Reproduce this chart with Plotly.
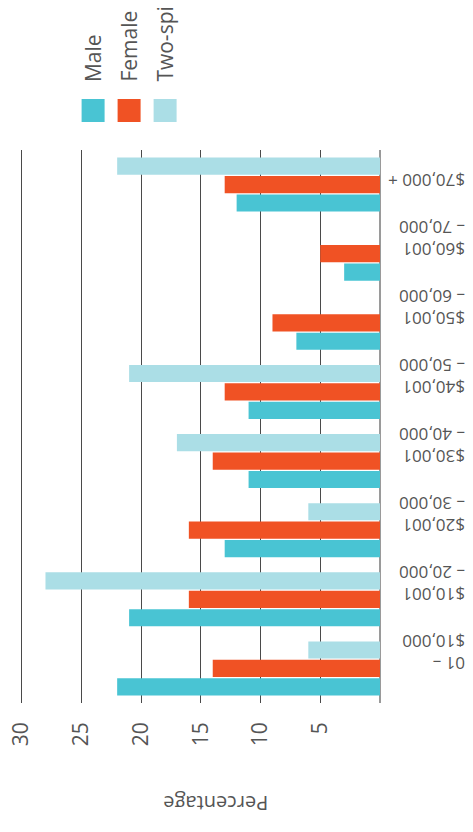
import plotly.graph_objects as go

# ---- data ----
categories = ["0-10000", "10001-20000", "20001-30000", "30001-40000",
              "40001-50000", "50001-60000", "60001-70000", "70000+"]
tick_labels = ["01 –<br>$10,000", "$10,001<br>– 20,000", "$20,001<br>– 30,000",
               "$30,001<br>– 40,000", "$40,001<br>– 50,000", "$50,001<br>– 60,000",
               "$60,001<br>– 70,000", "$70,000 +"]
male = [22, 21, 13, 11, 11, 7, 3, 12]
female = [14, 16, 16, 14, 13, 9, 5, 13]
two_spirit = [6, 28, 6, 17, 21, None, None, 22]
x_ticks = [5, 10, 15, 20, 25, 30]
series_names = ["Male", "Female", "Two-spirit"]
colors = ["#49C4D3", "#F05224", "#ABDEE6"]

# page body has an 8px margin; the figure starts 8px in from the window corner
OFF = 8
W, H = 473 - OFF, 832 - OFF
# plot area in window pixels
PL, PR, PT, PB = 18.4, 380.4, 150, 703
L, R = PL - OFF, W - (PR - OFF)
T, B = PT - OFF, H - (PB - OFF)
PW, PH = PR - PL, PB - PT

def px_x(x):
    return (x - PL) / PW

def px_y(y):
    return (PB - y) / PH

FONT = "Open Sans"
GREY = "#555555"

fig = go.Figure()
for name, vals, col in zip(series_names, [male, female, two_spirit], colors):
    fig.add_trace(go.Bar(y=categories, x=vals, name=name, orientation="h",
                         marker=dict(color=col, line=dict(width=0))))

# legend built from annotations + swatches (rotated text)
leg_x = [93.5, 129.5, 165.5]
for i, (name, col) in enumerate(zip(series_names, colors)):
    cx = leg_x[i]
    fig.add_shape(type="rect", xref="paper", yref="paper",
                  x0=px_x(cx - 11.5), x1=px_x(cx + 11.5),
                  y0=px_y(122), y1=px_y(99),
                  fillcolor=col, line=dict(width=0))
    fig.add_annotation(text=name, xref="paper", yref="paper",
                       x=px_x(cx), y=px_y(84), xanchor="center", yanchor="bottom",
                       textangle=-90, showarrow=False,
                       font=dict(family=FONT, size=21, color=GREY))

fig.add_annotation(text="Percentage", xref="paper", yref="paper",
                   x=px_x(216.5), y=px_y(804), xanchor="center", yanchor="middle",
                   textangle=180, showarrow=False,
                   font=dict(family=FONT, size=20, color=GREY))

fig.update_layout(
    width=W, height=H,
    margin=dict(l=L, r=R, t=T, b=B, pad=0, autoexpand=False),
    barmode="group", bargap=0.2, bargroupgap=0.07,
    plot_bgcolor="white", paper_bgcolor="white",
    showlegend=False,
    font=dict(family=FONT, color=GREY),
    xaxis=dict(range=[30.3, 0], tickvals=x_ticks, tickangle=-90, automargin=False,
               showgrid=True, gridcolor="#4a4a4a", gridwidth=1.3,
               zeroline=True, zerolinecolor="#9a9a9a", zerolinewidth=2,
               showline=False, ticks="", ticklen=0, ticklabeloverflow="allow",
               ticklabelstandoff=14,
               tickfont=dict(family=FONT, size=21, color=GREY)),
    yaxis=dict(categoryorder="array", categoryarray=categories, automargin=False,
               tickvals=categories, ticktext=tick_labels,
               side="right", tickangle=180, showgrid=False, zeroline=False,
               showline=False, ticks="", ticklabelstandoff=84,
               ticklabeloverflow="allow",
               tickfont=dict(family=FONT, size=17, color=GREY)),
)

fig.write_html("out.html")
